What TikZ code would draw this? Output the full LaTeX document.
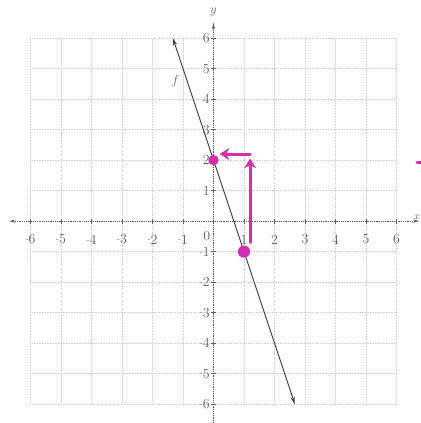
\documentclass[tikz,border=0pt]{standalone}
\usepackage{tikz}
\usetikzlibrary{positioning,arrows.meta}
\definecolor{pen}{RGB}{214,45,175}
\definecolor{ink}{RGB}{95,95,95}
\newcommand{\negnum}[1]{\raisebox{0.35ex}{\scriptsize -}#1}

\begin{document}
\begin{tikzpicture}[scale=1.0,>=stealth,
  grid/.style={gray!35,densely dotted,line width=0.5pt},
  axis/.style={ink,densely dotted,line width=0.7pt},
  lbl/.style={ink,font=\fontsize{13}{13}\selectfont,inner sep=0.5pt},
  penstroke/.style={pen,line width=2.8pt,line cap=round}]
  \clip (-7,-6.62) rectangle (6.8,7.25);
  \fill[white] (-7,-6.62) rectangle (6.8,7.25);
  % grid
  \foreach \i in {-6,...,6} {
    \draw[grid] (\i,-6)--(\i,6);
    \draw[grid] (-6,\i)--(6,\i);
  }
  % axes
  \coordinate (xl) at (-6.7,0);
  \coordinate (xr) at (6.75,0);
  \coordinate (yt) at (0,6.5);
  \coordinate (yb) at (0,-6.8);
  \draw[axis,<->,>={Stealth[length=6pt,width=3pt]}](xl)--(xr);
  \draw[axis,<->,>={Stealth[length=6pt,width=3pt]}](yb)--(yt);
  \node (xlab) [lbl,font=\normalsize,anchor=south east] at (6.8,0.02) {$x$};
  \node (ylab) [lbl] at (0,6.85) {$y$};
  \foreach \i in {1,...,6} {
    \draw[ink] (\i,-0.08)--(\i,0.08) (-\i,-0.08)--(-\i,0.08);
    \draw[ink] (-0.08,\i)--(0.08,\i) (-0.08,-\i)--(0.08,-\i);
    \node (px\i) [lbl] at (\i,-0.6) {\i};
    \node (nx\i) [lbl] at (-\i,-0.6) {\negnum{\i}};
    \node (py\i) [lbl,anchor=east] at (-0.1,\i) {\i};
    \node (ny\i) [lbl,anchor=east] at (-0.1,-\i) {\negnum{\i}};
  }
  \node (o) [lbl] at (-0.22,-0.5) {0};
  % line f
  \coordinate (ft) at (-4/3,6);
  \coordinate (fb) at (8/3,-6);
  \draw[<->,>={Stealth[length=7pt,width=4pt]},black!75,line width=0.9pt](ft)--(fb);
  \node (f) [lbl] at (-1.25,4.6) {$f$};
  % pen marks
  \coordinate (p) at (0,2);
  \coordinate (q) at (1,-1);
  \fill[pen] (p) circle (0.17);
  \fill[pen] (q) circle (0.2);
  \coordinate (ua) at (1.2,-0.7);
  \coordinate (ub) at (1.2,2.05);
  \coordinate (la) at (1.2,2.2);
  \coordinate (lb) at (0.2,2.2);
  \draw[penstroke,-{Stealth[length=9pt,width=11pt]}](ua)--(ub);
  \draw[penstroke,-{Stealth[length=9pt,width=11pt]}](la)--(lb);
  \coordinate (ea) at (6.68,1.92);
  \coordinate (eb) at (6.8,1.92);
  \draw[penstroke](ea)--(eb);
\end{tikzpicture}
\end{document}
